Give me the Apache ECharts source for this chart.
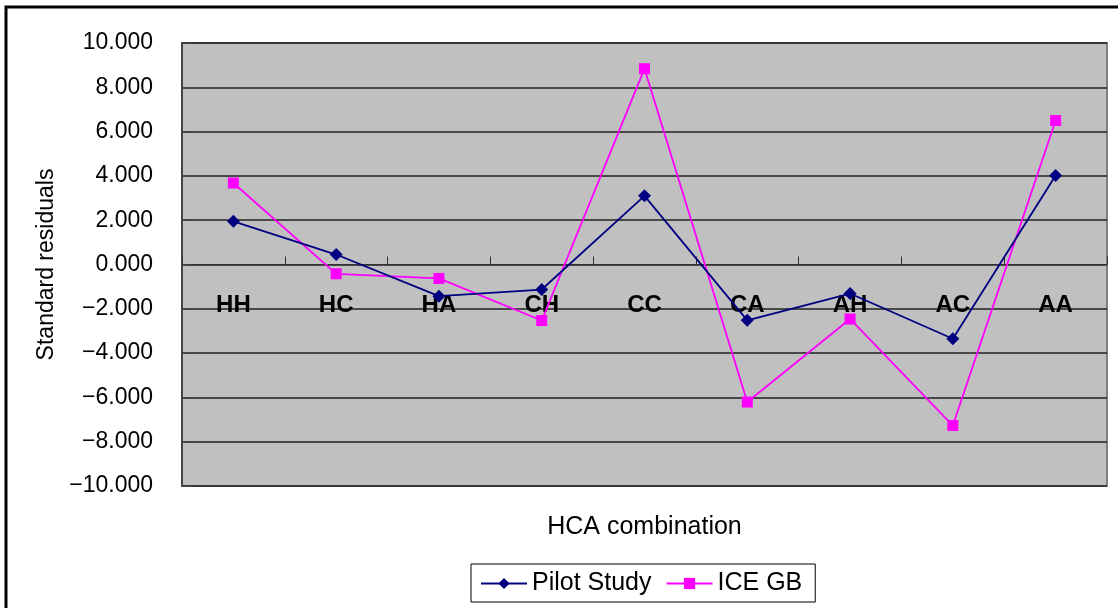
<!DOCTYPE html>
<html>
<head>
<meta charset="utf-8">
<script src="https://cdn.jsdelivr.net/npm/echarts@6/dist/echarts.min.js"></script>
<style>
  html, body { margin: 0; padding: 0; background: #ffffff; }
  #chart { width: 1118px; height: 608px; }
</style>
</head>
<body>
<div id="chart"></div>
<script>
// HCA combinations on the category axis
const categories = ['HH', 'HC', 'HA', 'CH', 'CC', 'CA', 'AH', 'AC', 'AA'];
// Standard residuals per combination
const pilotStudy = [1.95, 0.45, -1.43, -1.13, 3.10, -2.52, -1.31, -3.35, 4.02];
const iceGB = [3.68, -0.42, -0.63, -2.53, 8.84, -6.21, -2.46, -7.27, 6.50];
// Value axis range
const yMin = -10, yMax = 10, yStep = 2;

const FONT = '"Liberation Sans", Arial, sans-serif';
const GRID_TOP = 43, GRID_BOTTOM = 122, CHART_H = 608;
// distance from the plot bottom up to the zero line, so the category axis sits on y = 0
const plotH = CHART_H - GRID_TOP - GRID_BOTTOM;
const zeroOffset = plotH * (0 - yMin) / (yMax - yMin);

const chart = echarts.init(document.getElementById('chart'), null, { renderer: 'canvas' });

chart.setOption({
  backgroundColor: '#ffffff',
  animation: false,
  graphic: [{
    type: 'rect',
    shape: { x: 6, y: 7, width: 1250, height: 700 },
    style: { fill: 'none', stroke: '#000000', lineWidth: 3 },
    silent: true,
    z: 100
  }],
  grid: {
    left: 182, top: GRID_TOP, right: 11, bottom: GRID_BOTTOM,
    containLabel: false,
    outerBoundsMode: 'none',
    show: true,
    backgroundColor: '#C0C0C0',
    borderColor: '#808080',
    borderWidth: 2
  },
  legend: {
    left: 471, top: 564,
    padding: [7, 13, 6, 9],
    itemGap: 14,
    itemWidth: 46,
    itemHeight: 14,
    backgroundColor: '#ffffff',
    borderColor: '#000000',
    borderWidth: 1,
    borderRadius: 0,
    textStyle: { fontFamily: FONT, fontSize: 25, color: '#000000' },
    data: ['Pilot Study', 'ICE GB']
  },
  xAxis: {
    type: 'category',
    data: categories,
    boundaryGap: true,
    offset: -zeroOffset,
    name: 'HCA combination',
    nameLocation: 'middle',
    nameGap: 250,
    nameTextStyle: { fontFamily: FONT, fontSize: 25, color: '#000000' },
    axisLine: { onZero: false, lineStyle: { color: '#333333', width: 1 } },
    axisTick: { show: true, inside: true, length: 8, alignWithLabel: false, lineStyle: { color: '#333333' } },
    axisLabel: {
      margin: 29,
      fontFamily: FONT,
      fontSize: 24,
      fontWeight: 'bold',
      color: '#000000'
    },
    splitLine: { show: false }
  },
  yAxis: {
    type: 'value',
    min: yMin, max: yMax, interval: yStep,
    name: 'Standard residuals',
    nameLocation: 'middle',
    nameGap: 124,
    nameRotate: 90,
    nameTextStyle: { fontFamily: FONT, fontSize: 23, color: '#000000' },
    axisLine: { show: true, lineStyle: { color: '#444444', width: 2 } },
    axisTick: { show: true, inside: true, length: 8, lineStyle: { color: '#444444' } },
    axisLabel: {
      margin: 29,
      padding: [6, 0, 0, 0],
      fontFamily: FONT,
      fontSize: 23,
      color: '#000000',
      formatter: v => (v < 0 ? '\u2212' : '') + Math.abs(v).toFixed(3)
    },
    splitLine: { show: true, lineStyle: { color: '#222222', width: 1.5 } }
  },
  series: [
    {
      name: 'Pilot Study',
      type: 'line',
      data: pilotStudy,
      symbol: 'diamond',
      symbolSize: 13,
      color: '#000080',
      lineStyle: { color: '#000080', width: 1.8 },
      itemStyle: { color: '#000080' },
      z: 3
    },
    {
      name: 'ICE GB',
      type: 'line',
      data: iceGB,
      symbol: 'rect',
      symbolSize: 11,
      color: '#FF00FF',
      lineStyle: { color: '#FF00FF', width: 1.8 },
      itemStyle: { color: '#FF00FF' },
      z: 2
    }
  ]
});
</script>
</body>
</html>
